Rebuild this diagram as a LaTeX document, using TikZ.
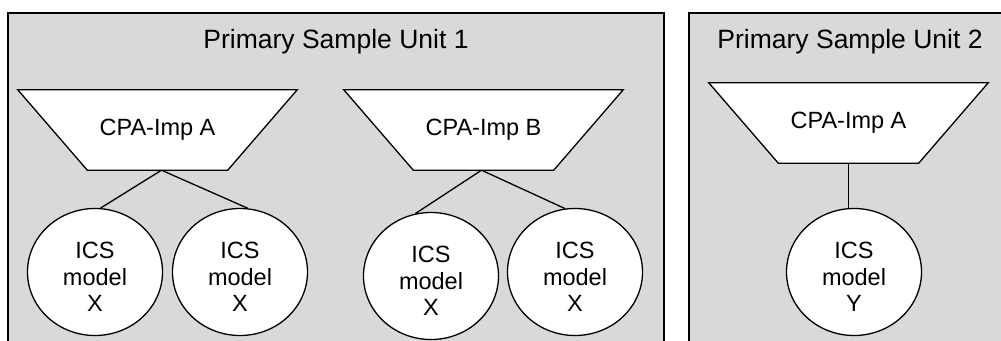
\documentclass[tikz,border=0pt]{standalone}
\usepackage{fontspec}
\setmainfont{Liberation Sans}
\usetikzlibrary{shapes.geometric}
\definecolor{unitgray}{RGB}{217,217,217}
\tikzset{
  unitbox/.style={draw=black, fill=unitgray, line width=1.4pt},
  unittitle/.style={font=\fontsize{26.5}{30}\selectfont, inner sep=0pt},
  % the text area of an implementation: its bottom edge is the narrow side
  imp/.style={rectangle, minimum width=140pt, minimum height=80pt, inner sep=0pt,
    font=\fontsize{23.5}{27}\selectfont},
  impshape/.style={draw=black, fill=white, line width=1.3pt, line join=miter},
  ics/.style={ellipse, draw=black, fill=white, line width=1.3pt,
    minimum width=135pt, minimum height=127pt, inner sep=0pt},
  icstext/.style={align=center, inner sep=0pt,
    font=\fontsize{23.5}{26.7}\selectfont},
  link/.style={line width=1.3pt}
}
% funnel outline around an implementation node
\newcommand{\impoutline}[1]{%
  \draw[impshape] (#1.south west) -- (#1.south east)
    -- ([xshift=69.5pt]#1.north east) -- ([xshift=-69.5pt]#1.north west) -- cycle;}
\begin{document}
\begin{tikzpicture}[x=1pt, y=-1pt]
  \useasboundingbox (0,0) rectangle (1001,340);
  % the two primary sample units, running off the bottom edge
  \begin{scope}
    \clip (0,0) rectangle (1001,340);
    \draw[unitbox] (8,13) rectangle (664,370);
    \draw[unitbox] (689,13) rectangle (1030,370);
  \end{scope}
  \node[unittitle] (t1) at (336,42) {Primary Sample Unit 1};
  \node[unittitle] (t2) at (850,42) {Primary Sample Unit 2};

  % CPA implementations
  \node[imp] (ia) at (157.5,130) {};
  \node[imp] (ib) at (483.5,130) {};
  \node[imp] (ic) at (848.5,123) {};
  \impoutline{ia}
  \impoutline{ib}
  \impoutline{ic}
  \node[imp] (na) at (ia.center) {CPA-Imp A};
  \node[imp] (nb) at (ib.center) {CPA-Imp B};
  \node[imp] (nc) at (ic.center) {CPA-Imp A};

  % ICS models
  \node[ics] (c1) at (95,272) {};
  \node[ics] (c2) at (240,272) {};
  \node[ics] (c3) at (431,276) {};
  \node[ics] (c4) at (575,272) {};
  \node[ics] (c5) at (854,272) {};
  \node[icstext] (l1) at ([yshift=-5pt]c1.center) {ICS\\model\\X};
  \node[icstext] (l2) at ([yshift=-5pt]c2.center) {ICS\\model\\X};
  \node[icstext] (l3) at ([yshift=-5pt]c3.center) {ICS\\model\\X};
  \node[icstext] (l4) at ([yshift=-5pt]c4.center) {ICS\\model\\X};
  \node[icstext] (l5) at ([yshift=-5pt]c5.center) {ICS\\model\\Y};

  % links
  \draw[link] ([xshift=4pt]ia.south) -- (c1.85);
  \draw[link] ([xshift=4pt]ia.south) -- (c2.83);
  \draw[link] ([xshift=-2pt]ib.south) -- (c3.104);
  \draw[link] ([xshift=-2pt]ib.south) -- (c4.99);
  \draw[link] (ic.south) -- (ic.south |- c5.north);
\end{tikzpicture}
\end{document}
